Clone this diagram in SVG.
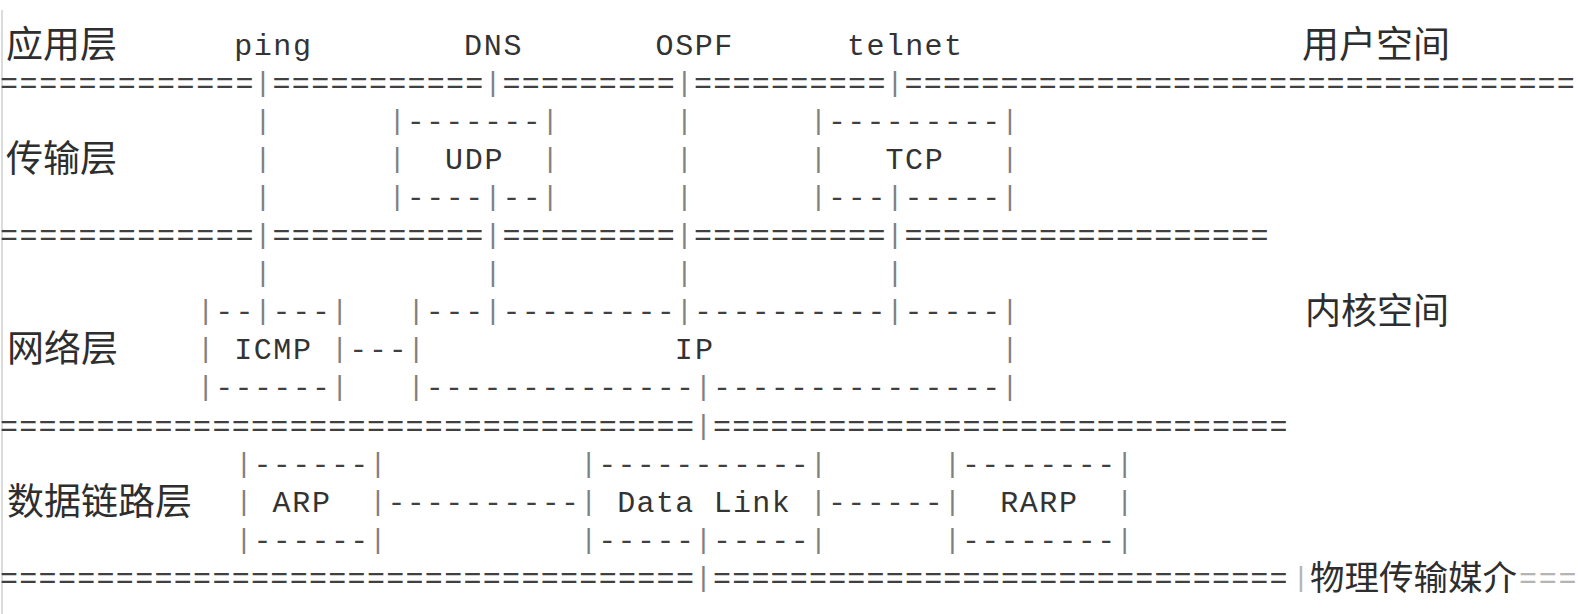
<svg xmlns="http://www.w3.org/2000/svg" width="1578" height="614" viewBox="0 0 1578 614">
<style>
.t{font-family:"Liberation Mono",monospace;font-size:30px;fill:#333333}
.r{font-family:"Liberation Mono",monospace;font-size:30px;fill:#404040}
.p{font-family:"Liberation Mono",monospace;font-size:28px;fill:#808080;text-anchor:middle}
.c{font-family:"Noto Sans CJK SC",sans-serif;font-size:37px;fill:#2e2e2e}
.f{fill:#b4b4b4}
</style>
<rect width="1578" height="614" fill="#ffffff"/>
<line x1="2" y1="10" x2="2" y2="614" stroke="#dcdcdc" stroke-width="2"/>

<g id="layer-labels">
<g id="label-app"><text class="c" x="6" y="57.5">应用层</text></g>
<g id="label-transport"><text class="c" x="6" y="171.8">传输层</text></g>
<g id="label-network"><text class="c" x="7" y="362.3">网络层</text></g>
<g id="label-datalink"><text class="c" x="7" y="514.7">数据链路层</text></g>
<g id="label-user"><text class="c" x="1302" y="57.5">用户空间</text></g>
<g id="label-kernel"><text class="c" x="1305" y="324.2" style="font-size:36px">内核空间</text></g>
<g id="label-physical"><text class="p f" x="1301" y="585.9">|</text><text class="c" x="1310" y="590" style="font-size:34.5px">物理传输媒介</text><text class="r f" x="1519" y="587.9" textLength="57.45" lengthAdjust="spacing">===</text></g>
</g>

<g id="apps">
<g id="app-ping"><text class="t" x="234.3" y="54.5" textLength="76.6" lengthAdjust="spacing">ping</text></g>
<g id="app-dns"><text class="t" x="464.1" y="54.5" textLength="57.45" lengthAdjust="spacing">DNS</text></g>
<g id="app-ospf"><text class="t" x="655.6" y="54.5" textLength="76.6" lengthAdjust="spacing">OSPF</text></g>
<g id="app-telnet"><text class="t" x="847.1" y="54.5" textLength="114.9" lengthAdjust="spacing">telnet</text></g>
</g>

<g id="separators">
<!-- row 2 -->
<text class="r" x="0" y="92.6" textLength="253.45" lengthAdjust="spacing">=============</text>
<text class="p" x="263.025" y="90.6">|</text>
<text class="r" x="272.6" y="92.6" textLength="210.65" lengthAdjust="spacing">===========</text>
<text class="p" x="492.825" y="90.6">|</text>
<text class="r" x="502.4" y="92.6" textLength="172.35" lengthAdjust="spacing">=========</text>
<text class="p" x="684.325" y="90.6">|</text>
<text class="r" x="693.9" y="92.6" textLength="191.5" lengthAdjust="spacing">==========</text>
<text class="p" x="894.975" y="90.6">|</text>
<text class="r" x="904.55" y="92.6" textLength="670.25" lengthAdjust="spacing">===================================</text>
<!-- row 6 -->
<text class="r" x="0" y="245" textLength="253.45" lengthAdjust="spacing">=============</text>
<text class="p" x="263.025" y="243">|</text>
<text class="r" x="272.6" y="245" textLength="210.65" lengthAdjust="spacing">===========</text>
<text class="p" x="492.825" y="243">|</text>
<text class="r" x="502.4" y="245" textLength="172.35" lengthAdjust="spacing">=========</text>
<text class="p" x="684.325" y="243">|</text>
<text class="r" x="693.9" y="245" textLength="191.5" lengthAdjust="spacing">==========</text>
<text class="p" x="894.975" y="243">|</text>
<text class="r" x="904.55" y="245" textLength="363.85" lengthAdjust="spacing">===================</text>
<!-- row 11 -->
<text class="r" x="0" y="435.5" textLength="693.9" lengthAdjust="spacing">====================================</text>
<text class="p" x="703.475" y="433.5">|</text>
<text class="r" x="713.05" y="435.5" textLength="574.5" lengthAdjust="spacing">==============================</text>
<!-- row 15 -->
<text class="r" x="0" y="587.9" textLength="693.9" lengthAdjust="spacing">====================================</text>
<text class="p" x="703.475" y="585.9">|</text>
<text class="r" x="713.05" y="587.9" textLength="574.5" lengthAdjust="spacing">==============================</text>
</g>

<g id="connectors">
<!-- ping line -->
<text class="p" x="263.025" y="128.7">|</text>
<text class="p" x="263.025" y="166.8">|</text>
<text class="p" x="263.025" y="204.9">|</text>
<text class="p" x="263.025" y="281.1">|</text>
<!-- DNS line -->
<text class="p" x="492.825" y="281.1">|</text>
<!-- OSPF line -->
<text class="p" x="684.325" y="128.7">|</text>
<text class="p" x="684.325" y="166.8">|</text>
<text class="p" x="684.325" y="204.9">|</text>
<text class="p" x="684.325" y="281.1">|</text>
<!-- telnet line -->
<text class="p" x="894.975" y="281.1">|</text>
<!-- ICMP to IP -->
<text class="r" x="349.2" y="359.3" textLength="57.45" lengthAdjust="spacing">---</text>
<!-- ARP to Data Link -->
<text class="r" x="387.5" y="511.7" textLength="191.5" lengthAdjust="spacing">----------</text>
<!-- Data Link to RARP -->
<text class="r" x="827.95" y="511.7" textLength="114.9" lengthAdjust="spacing">------</text>
</g>

<g id="node-udp">
<text class="p" x="397.075" y="128.7">|</text>
<text class="r" x="406.65" y="130.7" textLength="134.05" lengthAdjust="spacing">-------</text>
<text class="p" x="550.275" y="128.7">|</text>
<text class="p" x="397.075" y="166.8">|</text>
<text class="t" x="444.95" y="168.8" textLength="57.45" lengthAdjust="spacing">UDP</text>
<text class="p" x="550.275" y="166.8">|</text>
<text class="p" x="397.075" y="204.9">|</text>
<text class="r" x="406.65" y="206.9" textLength="76.6" lengthAdjust="spacing">----</text>
<text class="p" x="492.825" y="204.9">|</text>
<text class="r" x="502.4" y="206.9" textLength="38.3" lengthAdjust="spacing">--</text>
<text class="p" x="550.275" y="204.9">|</text>
</g>

<g id="node-tcp">
<text class="p" x="818.375" y="128.7">|</text>
<text class="r" x="827.95" y="130.7" textLength="172.35" lengthAdjust="spacing">---------</text>
<text class="p" x="1009.875" y="128.7">|</text>
<text class="p" x="818.375" y="166.8">|</text>
<text class="t" x="885.4" y="168.8" textLength="57.45" lengthAdjust="spacing">TCP</text>
<text class="p" x="1009.875" y="166.8">|</text>
<text class="p" x="818.375" y="204.9">|</text>
<text class="r" x="827.95" y="206.9" textLength="57.45" lengthAdjust="spacing">---</text>
<text class="p" x="894.975" y="204.9">|</text>
<text class="r" x="904.55" y="206.9" textLength="95.75" lengthAdjust="spacing">-----</text>
<text class="p" x="1009.875" y="204.9">|</text>
</g>

<g id="node-icmp">
<text class="p" x="205.575" y="319.2">|</text>
<text class="r" x="215.15" y="321.2" textLength="38.3" lengthAdjust="spacing">--</text>
<text class="p" x="263.025" y="319.2">|</text>
<text class="r" x="272.6" y="321.2" textLength="57.45" lengthAdjust="spacing">---</text>
<text class="p" x="339.625" y="319.2">|</text>
<text class="p" x="205.575" y="357.3">|</text>
<text class="t" x="234.3" y="359.3" textLength="76.6" lengthAdjust="spacing">ICMP</text>
<text class="p" x="339.625" y="357.3">|</text>
<text class="p" x="205.575" y="395.4">|</text>
<text class="r" x="215.15" y="397.4" textLength="114.9" lengthAdjust="spacing">------</text>
<text class="p" x="339.625" y="395.4">|</text>
</g>

<g id="node-ip">
<text class="p" x="416.225" y="319.2">|</text>
<text class="r" x="425.8" y="321.2" textLength="57.45" lengthAdjust="spacing">---</text>
<text class="p" x="492.825" y="319.2">|</text>
<text class="r" x="502.4" y="321.2" textLength="172.35" lengthAdjust="spacing">---------</text>
<text class="p" x="684.325" y="319.2">|</text>
<text class="r" x="693.9" y="321.2" textLength="191.5" lengthAdjust="spacing">----------</text>
<text class="p" x="894.975" y="319.2">|</text>
<text class="r" x="904.55" y="321.2" textLength="95.75" lengthAdjust="spacing">-----</text>
<text class="p" x="1009.875" y="319.2">|</text>
<text class="p" x="416.225" y="357.3">|</text>
<text class="t" x="674.75" y="359.3" textLength="38.3" lengthAdjust="spacing">IP</text>
<text class="p" x="1009.875" y="357.3">|</text>
<text class="p" x="416.225" y="395.4">|</text>
<text class="r" x="425.8" y="397.4" textLength="268.1" lengthAdjust="spacing">--------------</text>
<text class="p" x="703.475" y="395.4">|</text>
<text class="r" x="713.05" y="397.4" textLength="287.25" lengthAdjust="spacing">---------------</text>
<text class="p" x="1009.875" y="395.4">|</text>
</g>

<g id="node-arp">
<text class="p" x="243.875" y="471.6">|</text>
<text class="r" x="253.45" y="473.6" textLength="114.9" lengthAdjust="spacing">------</text>
<text class="p" x="377.925" y="471.6">|</text>
<text class="p" x="243.875" y="509.7">|</text>
<text class="t" x="272.6" y="511.7" textLength="57.45" lengthAdjust="spacing">ARP</text>
<text class="p" x="377.925" y="509.7">|</text>
<text class="p" x="243.875" y="547.8">|</text>
<text class="r" x="253.45" y="549.8" textLength="114.9" lengthAdjust="spacing">------</text>
<text class="p" x="377.925" y="547.8">|</text>
</g>

<g id="node-datalink">
<text class="p" x="588.575" y="471.6">|</text>
<text class="r" x="598.15" y="473.6" textLength="210.65" lengthAdjust="spacing">-----------</text>
<text class="p" x="818.375" y="471.6">|</text>
<text class="p" x="588.575" y="509.7">|</text>
<text class="t" x="617.3" y="511.7" textLength="172.35" lengthAdjust="spacing">Data Link</text>
<text class="p" x="818.375" y="509.7">|</text>
<text class="p" x="588.575" y="547.8">|</text>
<text class="r" x="598.15" y="549.8" textLength="95.75" lengthAdjust="spacing">-----</text>
<text class="p" x="703.475" y="547.8">|</text>
<text class="r" x="713.05" y="549.8" textLength="95.75" lengthAdjust="spacing">-----</text>
<text class="p" x="818.375" y="547.8">|</text>
</g>

<g id="node-rarp">
<text class="p" x="952.425" y="471.6">|</text>
<text class="r" x="962" y="473.6" textLength="153.2" lengthAdjust="spacing">--------</text>
<text class="p" x="1124.775" y="471.6">|</text>
<text class="p" x="952.425" y="509.7">|</text>
<text class="t" x="1000.3" y="511.7" textLength="76.6" lengthAdjust="spacing">RARP</text>
<text class="p" x="1124.775" y="509.7">|</text>
<text class="p" x="952.425" y="547.8">|</text>
<text class="r" x="962" y="549.8" textLength="153.2" lengthAdjust="spacing">--------</text>
<text class="p" x="1124.775" y="547.8">|</text>
</g>
</svg>
